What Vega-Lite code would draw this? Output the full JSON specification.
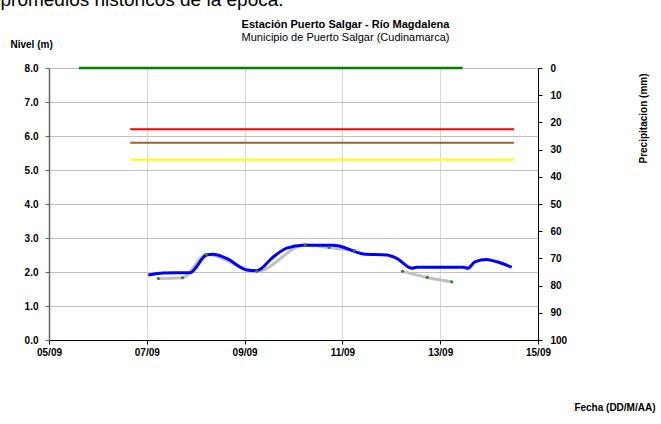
{
  "$schema": "https://vega.github.io/schema/vega-lite/v6.json",
  "width": 489,
  "height": 272,
  "autosize": {"type": "none"},
  "padding": {"left": 49, "top": 68, "right": 123, "bottom": 84},
  "background": "white",
  "config": {
    "view": {"stroke": null},
    "font": "Liberation Sans",
    "axis": {
      "labelFont": "Liberation Sans",
      "labelFontWeight": "bold",
      "labelFontSize": 10,
      "labelColor": "black",
      "titleFont": "Liberation Sans",
      "titleFontWeight": "bold",
      "titleFontSize": 10,
      "titleColor": "black"
    }
  },
  "title": {
    "text": "Estación Puerto Salgar - Río Magdalena",
    "subtitle": "Municipio de Puerto Salgar (Cudinamarca)",
    "font": "Liberation Sans",
    "fontSize": 11,
    "fontWeight": "bold",
    "color": "black",
    "subtitleFont": "Liberation Sans",
    "subtitleFontSize": 11,
    "subtitleFontWeight": "normal",
    "subtitleColor": "black",
    "subtitlePadding": 2,
    "anchor": "middle",
    "frame": "group",
    "dx": 52,
    "offset": -53
  },
  "datasets": {
    "umbrales": [
      {"t": "2011-09-06T15:50:00", "nivel": 6.2, "serie": "Roja"},
      {"t": "2011-09-14T12:15:00", "nivel": 6.2, "serie": "Roja"},
      {"t": "2011-09-06T15:50:00", "nivel": 5.8, "serie": "Naranja"},
      {"t": "2011-09-14T12:15:00", "nivel": 5.8, "serie": "Naranja"},
      {"t": "2011-09-06T15:50:00", "nivel": 5.3, "serie": "Amarilla"},
      {"t": "2011-09-14T12:15:00", "nivel": 5.3, "serie": "Amarilla"}
    ],
    "nivel": [
      {"t": "2011-09-07T00:45:00", "nivel": 1.91},
      {"t": "2011-09-07T08:10:00", "nivel": 1.97},
      {"t": "2011-09-07T21:10:00", "nivel": 1.98},
      {"t": "2011-09-08T05:20:00", "nivel": 2.5},
      {"t": "2011-09-08T08:30:00", "nivel": 2.52},
      {"t": "2011-09-08T15:10:00", "nivel": 2.4},
      {"t": "2011-09-09T01:00:00", "nivel": 2.06},
      {"t": "2011-09-09T06:00:00", "nivel": 2.04},
      {"t": "2011-09-09T14:10:00", "nivel": 2.45},
      {"t": "2011-09-09T20:40:00", "nivel": 2.7},
      {"t": "2011-09-10T04:50:00", "nivel": 2.79},
      {"t": "2011-09-10T19:30:00", "nivel": 2.79},
      {"t": "2011-09-10T22:50:00", "nivel": 2.76},
      {"t": "2011-09-11T06:10:00", "nivel": 2.6},
      {"t": "2011-09-11T10:20:00", "nivel": 2.53},
      {"t": "2011-09-11T21:50:00", "nivel": 2.5},
      {"t": "2011-09-12T02:40:00", "nivel": 2.4},
      {"t": "2011-09-12T10:05:00", "nivel": 2.11},
      {"t": "2011-09-12T12:30:00", "nivel": 2.14},
      {"t": "2011-09-13T11:20:00", "nivel": 2.14},
      {"t": "2011-09-13T13:40:00", "nivel": 2.11},
      {"t": "2011-09-13T17:00:00", "nivel": 2.3},
      {"t": "2011-09-13T22:50:00", "nivel": 2.37},
      {"t": "2011-09-14T03:50:00", "nivel": 2.3},
      {"t": "2011-09-14T11:05:00", "nivel": 2.14}
    ],
    "promedio": [
      {"t": "2011-09-07T05:40:00", "nivel": 1.81, "seg": "a"},
      {"t": "2011-09-07T17:30:00", "nivel": 1.83, "seg": "a"},
      {"t": "2011-09-08T05:20:00", "nivel": 2.52, "seg": "a"},
      {"t": "2011-09-09T06:00:00", "nivel": 2.02, "seg": "a"},
      {"t": "2011-09-10T05:40:00", "nivel": 2.8, "seg": "a"},
      {"t": "2011-09-10T17:30:00", "nivel": 2.72, "seg": "a"},
      {"t": "2011-09-11T05:50:00", "nivel": 2.63, "seg": "a"},
      {"t": "2011-09-12T05:30:00", "nivel": 2.02, "seg": "b"},
      {"t": "2011-09-12T17:40:00", "nivel": 1.84, "seg": "b"},
      {"t": "2011-09-13T05:40:00", "nivel": 1.71, "seg": "b"}
    ],
    "precip": [
      {"t": "2011-09-05T14:40:00", "precip": 0},
      {"t": "2011-09-06T12:00:00", "precip": 0},
      {"t": "2011-09-07T12:00:00", "precip": 0},
      {"t": "2011-09-08T12:00:00", "precip": 0},
      {"t": "2011-09-09T12:00:00", "precip": 0},
      {"t": "2011-09-10T12:00:00", "precip": 0},
      {"t": "2011-09-11T12:00:00", "precip": 0},
      {"t": "2011-09-12T12:00:00", "precip": 0},
      {"t": "2011-09-13T11:00:00", "precip": 0}
    ]
  },
  "layer": [
    {
      "encoding": {
        "x": {
          "field": "t",
          "type": "temporal",
          "scale": {"domain": [{"year": 2011, "month": 9, "date": 5}, {"year": 2011, "month": 9, "date": 15}]},
          "axis": {
            "orient": "bottom",
            "format": "%d/%m",
            "tickCount": {"interval": "day", "step": 2},
            "grid": true,
            "gridColor": "#d9d9d9",
            "gridWidth": 1,
            "domainColor": "black",
            "domainWidth": 1,
            "tickColor": "black",
            "tickSize": 4,
            "labelPadding": 3,
            "labelFlush": false,
            "title": "Fecha (DD/M/AA)",
            "titleX": 606,
            "titleY": 67,
            "titleAlign": "right",
            "titleBaseline": "middle",
            "titleAnchor": null
          }
        },
        "y": {
          "field": "nivel",
          "type": "quantitative",
          "scale": {"domain": [0, 8], "nice": false},
          "axis": {
            "values": [0, 1, 2, 3, 4, 5, 6, 7, 8],
            "format": ".1f",
            "grid": true,
            "gridColor": "#c0c0c0",
            "domainColor": "#666666",
            "domainWidth": 1.5,
            "tickColor": "#666666",
            "tickSize": 4,
            "labelPadding": 7,
            "labelOverlap": false,
            "title": "Nivel (m)",
            "titleAngle": 0,
            "titleX": -39,
            "titleY": -24,
            "titleAlign": "left",
            "titleBaseline": "middle",
            "titleAnchor": null
          }
        }
      },
      "layer": [
        {
          "data": {"name": "umbrales"},
          "mark": {"type": "line", "strokeWidth": 2},
          "encoding": {
            "color": {
              "field": "serie",
              "type": "nominal",
              "scale": {"domain": ["Roja", "Naranja", "Amarilla"], "range": ["#ff0000", "#996633", "#ffff00"]},
              "legend": null
            }
          }
        },
        {
          "data": {"name": "promedio"},
          "mark": {"type": "line", "strokeWidth": 3, "color": "#c0c0c0", "interpolate": "monotone"},
          "encoding": {
            "detail": {"field": "seg", "type": "nominal"}
          }
        },
        {
          "data": {"name": "nivel"},
          "mark": {"type": "line", "strokeWidth": 3, "color": "#0000ff", "interpolate": "monotone"},
          "encoding": {}
        },
        {
          "data": {"name": "promedio"},
          "mark": {"type": "point", "filled": true, "size": 10, "color": "#3a7a3a", "opacity": 1},
          "encoding": {}
        }
      ]
    },
    {
      "data": {"name": "precip"},
      "mark": {"type": "line", "strokeWidth": 2.5, "color": "#008000"},
      "encoding": {
        "x": {
          "field": "t",
          "type": "temporal",
          "axis": {
            "orient": "top",
            "labels": false,
            "ticks": false,
            "domain": false,
            "grid": false,
            "title": "promedios históricos de la época.",
            "titleFont": "Liberation Sans",
            "titleFontWeight": "normal",
            "titleFontSize": 19,
            "titleX": -49,
            "titleY": -63,
            "titleAlign": "left",
            "titleBaseline": "alphabetic",
            "titleAnchor": null
          }
        },
        "y": {
          "field": "precip",
          "type": "quantitative",
          "scale": {"domain": [0, 100], "reverse": true, "nice": false},
          "axis": {
            "orient": "right",
            "values": [0, 10, 20, 30, 40, 50, 60, 70, 80, 90, 100],
            "grid": false,
            "domainColor": "black",
            "domainWidth": 1,
            "tickColor": "black",
            "tickSize": 4,
            "labelPadding": 8,
            "title": "Precipitacion (mm)",
            "titleAngle": 270,
            "titleX": 105,
            "titleY": 50,
            "titleAlign": "center",
            "titleBaseline": "middle",
            "titleAnchor": null
          }
        }
      }
    }
  ],
  "resolve": {"scale": {"y": "independent"}, "axis": {"y": "independent"}}
}
